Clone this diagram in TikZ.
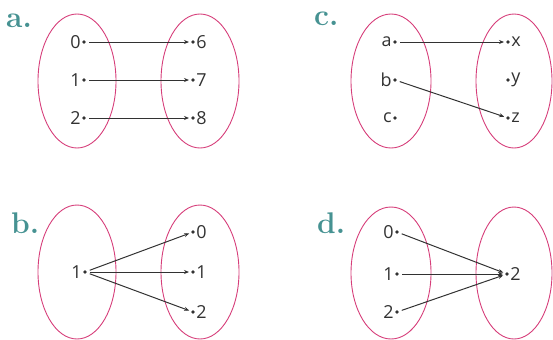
\documentclass[tikz,border=0pt]{standalone}
\usepackage{fontspec}
\newfontfamily\eltfont{Open Sans}
\usetikzlibrary{arrows.meta}

\definecolor{setpink}{RGB}{214,62,122}
\definecolor{lblteal}{RGB}{70,146,146}
\definecolor{inkgray}{RGB}{50,50,50}

\tikzset{
  setoval/.style={draw=setpink, line width=0.9bp},
  elt/.style={circle, fill=inkgray, inner sep=0pt, minimum size=3.6bp},
  eltlbl/.style={inner sep=1.2bp, text=inkgray, font=\eltfont\fontsize{18}{20}\selectfont},
  map/.style={-{Stealth[length=5bp,width=4bp]}, draw=inkgray, line width=1bp,
              shorten <=3bp, shorten >=2bp},
  partlbl/.style={anchor=base west, inner sep=0pt, text=lblteal,
                  font=\bfseries\fontsize{30}{32}\selectfont}
}

\begin{document}
\begin{tikzpicture}[x=1bp, y=-1bp]
  \useasboundingbox (0,0) rectangle (553,339);

  % a.
  \node[partlbl] (la) at (6,27) {a.};
  \draw[setoval] (77,81) ellipse [x radius=39, y radius=67];
  \draw[setoval] (200,81) ellipse [x radius=39, y radius=67];
  \node[elt, label={[eltlbl]left:0}] (a0) at (84,42) {};
  \node[elt, label={[eltlbl]left:1}] (a1) at (84,80) {};
  \node[elt, label={[eltlbl]left:2}] (a2) at (84,118) {};
  \node[elt, label={[eltlbl]right:6}] (a6) at (193,42) {};
  \node[elt, label={[eltlbl]right:7}] (a7) at (193,80) {};
  \node[elt, label={[eltlbl]right:8}] (a8) at (193,118) {};
  \draw[map] (a0) -- (a6);
  \draw[map] (a1) -- (a7);
  \draw[map] (a2) -- (a8);

  % b.
  \node[partlbl] (lb) at (11,233) {b.};
  \draw[setoval] (77,272) ellipse [x radius=39, y radius=67];
  \draw[setoval] (200,272) ellipse [x radius=39, y radius=67];
  \node[elt, label={[eltlbl]left:1}] (b1) at (85,272) {};
  \node[elt, label={[eltlbl]right:0}] (c0) at (193,232) {};
  \node[elt, label={[eltlbl]right:1}] (c1) at (193,272) {};
  \node[elt, label={[eltlbl]right:2}] (c2) at (193,312) {};
  \draw[map] (b1) -- (c0);
  \draw[map] (b1) -- (c1);
  \draw[map] (b1) -- (c2);

  % c.
  \node[partlbl] (lc) at (314,25) {c.};
  \draw[setoval] (391,81) ellipse [x radius=40, y radius=67];
  \draw[setoval] (514,81) ellipse [x radius=38, y radius=67];
  \node[elt, label={[eltlbl]left:a}] (sa) at (395,42) {};
  \node[elt, label={[eltlbl]left:b}] (sb) at (395,80) {};
  \node[elt, label={[eltlbl]left:c}] (sc) at (395,118) {};
  \node[elt, label={[eltlbl]right:x}] (tx) at (508,42) {};
  \node[elt, label={[eltlbl]right:y}] (ty) at (508,80) {};
  \node[elt, label={[eltlbl]right:z}] (tz) at (508,118) {};
  \draw[map] (sa) -- (tx);
  \draw[map] (sb) -- (tz);

  % d.
  \node[partlbl] (ld) at (317,233) {d.};
  \draw[setoval] (391,273) ellipse [x radius=40, y radius=66];
  \draw[setoval] (514,273) ellipse [x radius=38, y radius=66];
  \node[elt, label={[eltlbl]left:0}] (d0) at (397,232) {};
  \node[elt, label={[eltlbl]left:1}] (d1) at (397,274) {};
  \node[elt, label={[eltlbl]left:2}] (d2) at (397,312) {};
  \node[elt, label={[eltlbl]right:2}] (e2) at (507,274) {};
  \draw[map] (d0) -- (e2);
  \draw[map] (d1) -- (e2);
  \draw[map] (d2) -- (e2);
\end{tikzpicture}
\end{document}
